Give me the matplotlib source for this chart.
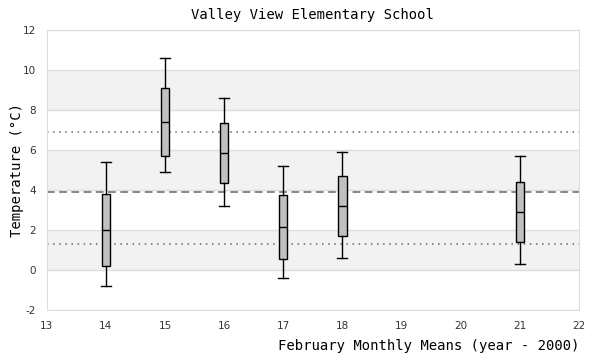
import matplotlib
matplotlib.use("Agg")
import matplotlib.pyplot as plt

plt.rcParams['axes.unicode_minus'] = False

years = [14, 15, 16, 17, 18, 21]
whislo = [-0.8, 4.9, 3.2, -0.4, 0.6, 0.3]
q1 = [0.2, 5.7, 4.35, 0.55, 1.7, 1.4]
med = [2.0, 7.4, 5.85, 2.15, 3.2, 2.9]
q3 = [3.8, 9.1, 7.35, 3.75, 4.7, 4.4]
whishi = [5.4, 10.6, 8.6, 5.2, 5.9, 5.7]

mean_line = 3.9
sd_lines = [6.9, 1.3]

stats = []
for i in range(len(years)):
    stats.append(dict(whislo=whislo[i], q1=q1[i], med=med[i], q3=q3[i],
                      whishi=whishi[i], fliers=[]))

mono = 'DejaVu Sans Mono'

fig = plt.figure(figsize=(6, 3.6), dpi=100)
ax = fig.add_axes([0.078, 0.139, 0.887, 0.778])

# alternating bands
for lo in [0, 4, 8]:
    ax.axhspan(lo, lo + 2, color='#f2f2f2', zorder=0, lw=0)
for y in range(-2, 13, 2):
    ax.axhline(y, color='#dddddd', lw=1, zorder=0.5)

ax.axhline(mean_line, color='#666666', lw=1.1, ls=(0, (5, 3)), zorder=1)
for y in sd_lines:
    ax.axhline(y, color='#666666', lw=1.1, ls=(0, (1, 3)), zorder=1)

ax.bxp(stats, positions=years, widths=0.14, patch_artist=True,
       boxprops=dict(facecolor='#c0c0c0', edgecolor='black', lw=1),
       medianprops=dict(color='black', lw=1),
       whiskerprops=dict(color='black', lw=1),
       capprops=dict(color='black', lw=1), capwidths=0.17, zorder=3)

ax.set_xlim(13, 22)
ax.set_ylim(-2, 12)
ax.set_xticks(range(13, 23))
ax.set_xticklabels([str(v) for v in range(13, 23)])
ax.set_yticks(range(-2, 13, 2))
ax.tick_params(length=0, labelsize=7.5, colors='#333333', pad=8)
for s in ax.spines.values():
    s.set_color('#dddddd')

ax.set_title('Valley View Elementary School', fontfamily=mono, fontsize=10, pad=8)
ax.set_ylabel('Temperature (\u00b0C)', fontfamily=mono, fontsize=10)
ax.yaxis.set_label_coords(-0.043, 0.5)
ax.set_xlabel('February Monthly Means (year - 2000)', fontfamily=mono, fontsize=10,
              loc='right', labelpad=6)

fig.savefig('out.png')
